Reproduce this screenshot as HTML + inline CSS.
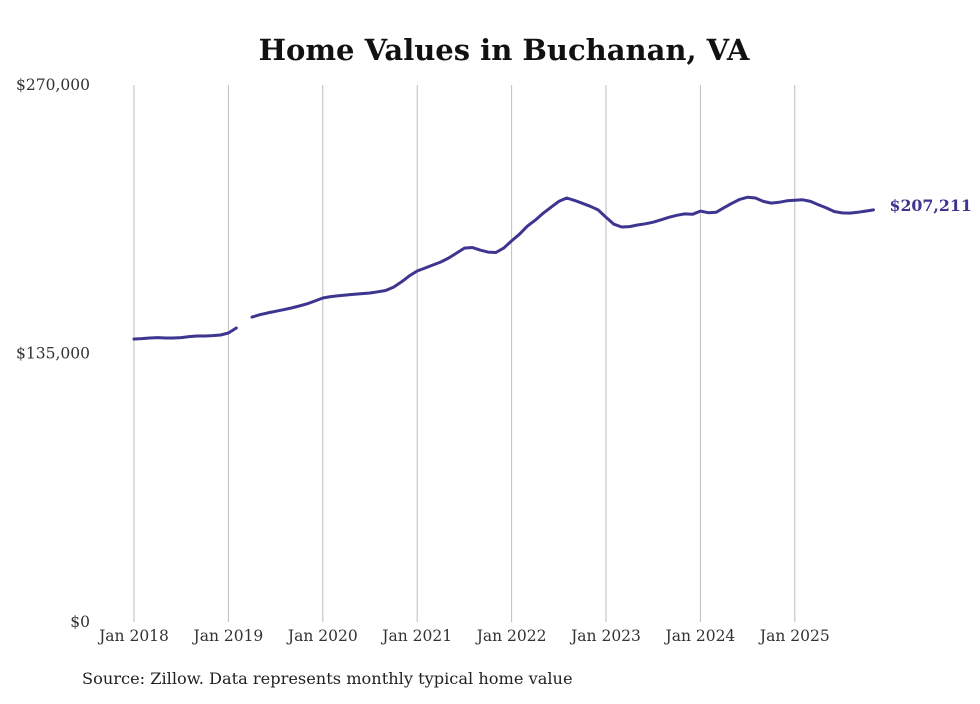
<!DOCTYPE html>
<html><head><meta charset="utf-8"><style>
html,body{margin:0;padding:0;background:#fff;}
svg text{font-family:"DejaVu Serif","Liberation Serif",serif;}
</style></head><body>
<svg id="chart" width="980" height="699" viewBox="0 0 980 699" xmlns="http://www.w3.org/2000/svg">
<rect width="980" height="699" fill="#fff"/>
<text x="504" y="60" text-anchor="middle" font-size="29" font-weight="bold" fill="#111">Home Values in Buchanan, VA</text>
<g id="grid"></g><g id="yaxis"></g><g id="xaxis"></g><g id="series"></g>
<text x="82" y="684" font-size="16.2" fill="#222">Source: Zillow. Data represents monthly typical home value</text>
</svg>
<script>
const yTicks=[0,135000,270000];
const yTickLabels=["$0","$135,000","$270,000"];
const xTickYears=[2018,2019,2020,2021,2022,2023,2024,2025];
const xTickLabels=["Jan 2018","Jan 2019","Jan 2020","Jan 2021","Jan 2022","Jan 2023","Jan 2024","Jan 2025"];
const startYear=2018;
const values2018=[142.3,142.5,142.8,143.0,142.8,142.8,143.0,143.5,143.8,143.8,144.0,144.3];
const values2019=[145.3,147.8,null,153.3,154.5,155.4,156.2,157.0,157.9,158.9,160.0,161.4];
const values2020=[162.9,163.6,164.0,164.4,164.8,165.1,165.4,166.0,166.7,168.4,171.0,174.0];
const values2021=[176.5,178.0,179.5,181.0,183.0,185.5,188.0,188.3,187.0,186.0,185.8,188.0];
const values2022=[191.6,195.0,199.0,202.0,205.5,208.5,211.5,213.2,212.0,210.5,209.0,207.2];
const values2023=[203.5,200.0,198.6,198.8,199.6,200.2,201.0,202.2,203.5,204.5,205.2,205.0];
const values2024=[206.6,205.8,206.0,208.3,210.5,212.5,213.6,213.2,211.5,210.6,211.0,211.8];
const values2025=[212.1,212.3,211.5,209.8,208.2,206.4,205.7,205.6,206.0,206.6,207.211];
const lastLabel="$207,211";

const NS="http://www.w3.org/2000/svg";
const X0=134,PX_YEAR=94.4,Y0=622,Y1=85,YMAX=270000;
const xs=m=>X0+m*PX_YEAR/12;
const ys=v=>Y0-(v/YMAX)*(Y0-Y1);
function mk(t,a,p){const e=document.createElementNS(NS,t);for(const k in a)e.setAttribute(k,a[k]);p.appendChild(e);return e;}
const grid=document.getElementById('grid'),ya=document.getElementById('yaxis'),xa=document.getElementById('xaxis'),se=document.getElementById('series');
xTickYears.forEach((yr,i)=>{
  const x=xs((yr-startYear)*12);
  const l=mk('line',{x1:x,x2:x,y1:Y1,y2:Y0,stroke:'#bdbdbd','stroke-width':1},grid);
  
  
  const t=mk('text',{x:x,y:641,'text-anchor':'middle','font-size':15.5,fill:'#333'},xa);
  t.textContent=xTickLabels[i];
  
  
});
yTicks.forEach((v,i)=>{
  const t=mk('text',{x:90,y:ys(v)+5,'text-anchor':'end','font-size':15.5,fill:'#333'},ya);
  t.textContent=yTickLabels[i];
  
  
});
const all=[].concat(values2018,values2019,values2020,values2021,values2022,values2023,values2024,values2025);
let segs=[],cur=[];
all.forEach((v,i)=>{if(v===null){if(cur.length)segs.push(cur);cur=[];}else cur.push([xs(i),ys(v*1000)]);});
if(cur.length)segs.push(cur);
segs.forEach(s=>{
  const p=mk('path',{d:'M'+s.map(q=>q[0].toFixed(1)+','+q[1].toFixed(1)).join('L'),fill:'none',stroke:'#3d3590','stroke-width':3,'stroke-linejoin':'round','stroke-linecap':'round'},se);
  
  
});
const li=all.length-1;
const lt=mk('text',{x:xs(li)+16,y:ys(all[li]*1000)+1,'font-size':15.8,'font-weight':'bold',fill:'#3d3590'},se);
lt.textContent=lastLabel;


</script>
</body></html>
